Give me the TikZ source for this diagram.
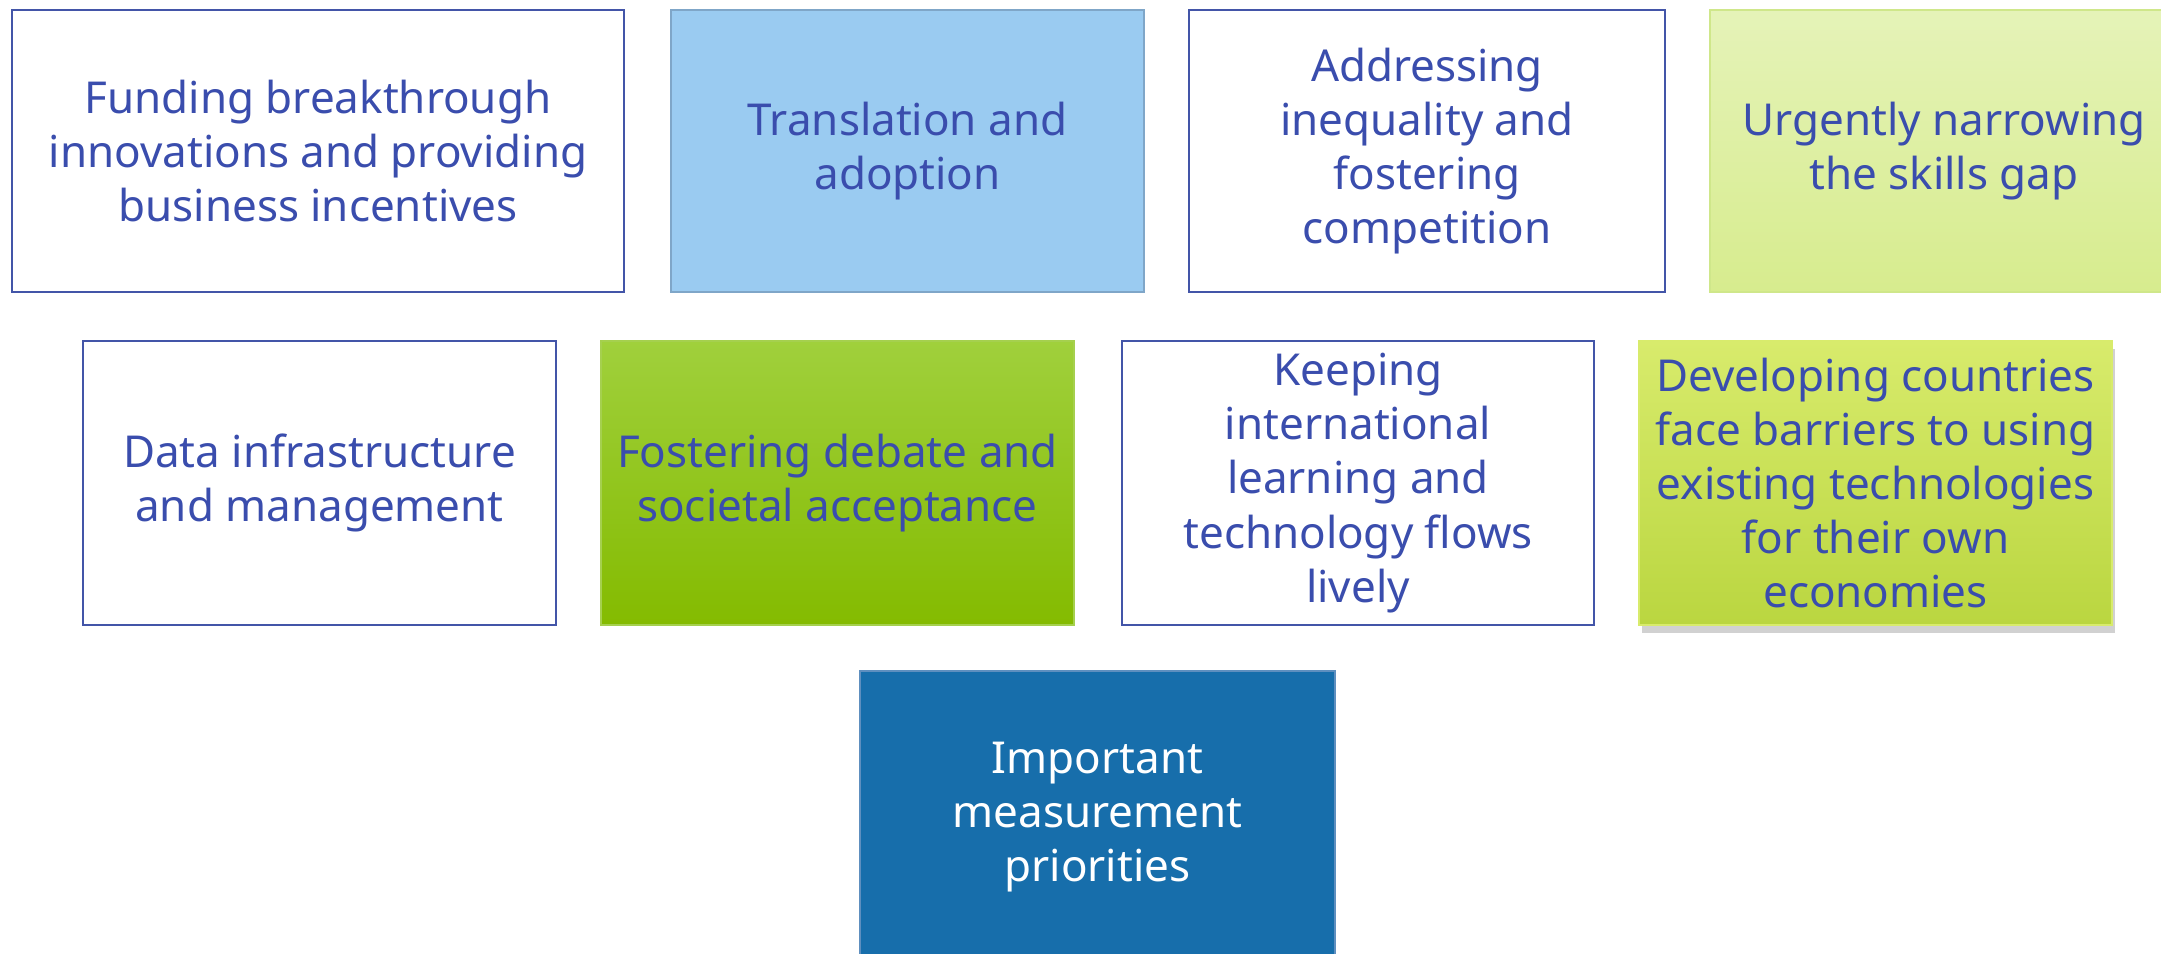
\documentclass[tikz,border=0pt]{standalone}
\usepackage{fontspec}
\setmainfont{Noto Sans}
\usetikzlibrary{shadows}

\definecolor{txtblue}{HTML}{3A4DAD}
\definecolor{edgeblue}{HTML}{4355A8}
\definecolor{skyfill}{HTML}{9ACBF1}
\definecolor{skyedge}{HTML}{7FA6C8}
\definecolor{limetop}{HTML}{E5F3B8}
\definecolor{limebot}{HTML}{D7EC8E}
\definecolor{limeedge}{HTML}{CFE78A}
\definecolor{greentop}{HTML}{A0D03C}
\definecolor{greenbot}{HTML}{84BB00}
\definecolor{greenedge}{HTML}{A5D04E}
\definecolor{yeltop}{HTML}{D8EB6C}
\definecolor{yelbot}{HTML}{BAD640}
\definecolor{navyfill}{HTML}{176EAB}
\definecolor{navyedge}{HTML}{5E8FBF}

\tikzset{
  box/.style={rectangle, inner sep=0pt, outer sep=0pt, align=center,
    text=txtblue, line width=0.7pt,
    font=\fontsize{12.5pt}{15.4pt}\selectfont},
  plainbox/.style={box, draw=edgeblue, fill=white},
  skybox/.style={box, draw=skyedge, fill=skyfill},
  limebox/.style={box, draw=limeedge, top color=limetop, bottom color=limebot},
  greenbox/.style={box, draw=greenedge, top color=greentop, bottom color=greenbot},
  yelbox/.style={box, draw=yeltop, top color=yeltop, bottom color=yelbot,
    drop shadow={shadow xshift=0.8pt, shadow yshift=-2.2pt, opacity=0.18, fill=black}},
  navybox/.style={box, draw=navyedge, fill=navyfill, text=white},
}

\begin{document}
\begin{tikzpicture}[x=0.01cm, y=-0.01cm]
  \useasboundingbox (0,0) rectangle (2161,953);
  \clip (0,0) rectangle (2161,953);

  % first row
  \node[plainbox, minimum width=6.12cm, minimum height=2.82cm] (fund) at (318,151)
    {Funding breakthrough\\innovations and providing\\business incentives};
  \node[skybox, minimum width=4.73cm, minimum height=2.82cm] (trans) at (907.5,151)
    {Translation and\\adoption};
  \node[plainbox, minimum width=4.76cm, minimum height=2.82cm] (ineq) at (1427,151)
    {Addressing\\inequality and\\fostering\\competition};
  \node[limebox, minimum width=4.68cm, minimum height=2.82cm] (skills) at (1944,151)
    {Urgently narrowing\\the skills gap};

  % second row
  \node[plainbox, minimum width=4.73cm, minimum height=2.84cm] (data) at (319.5,483)
    {Data infrastructure\\and management};
  \node[greenbox, minimum width=4.73cm, minimum height=2.84cm] (debate) at (837.5,483)
    {Fostering debate and\\societal acceptance};
  \node[plainbox, minimum width=4.72cm, minimum height=2.84cm] (flows) at (1358,483)
    {Keeping\\international\\learning and\\technology flows\\lively};
  \node[yelbox, minimum width=4.73cm, minimum height=2.84cm] (devel) at (1875.5,483)
    {Developing countries\\face barriers to using\\existing technologies\\for their own\\economies};

  % bottom box
  \node[navybox, minimum width=4.75cm, minimum height=2.92cm] (meas) at (1097.5,817)
    {Important\\measurement\\priorities};
\end{tikzpicture}
\end{document}
